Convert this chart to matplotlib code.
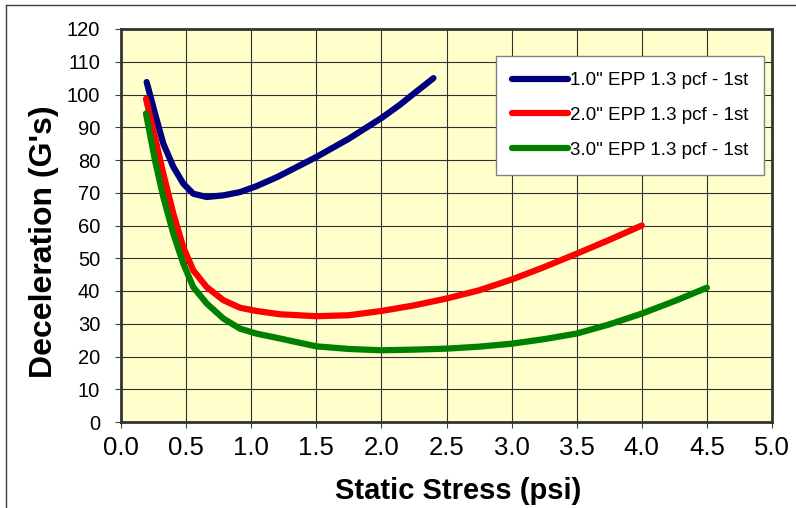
import matplotlib
matplotlib.use("Agg")
from matplotlib import pyplot as plt
from matplotlib.lines import Line2D

# values
x_1in = [0.197, 0.261, 0.325, 0.402, 0.478, 0.555, 0.658, 0.786, 0.914, 1.04, 1.2, 1.5, 1.75, 2.0, 2.14, 2.25, 2.4]
y_1in = [103.8, 94.2, 85.0, 77.9, 72.8, 69.7, 68.7, 69.2, 70.2, 72.0, 74.8, 80.9, 86.5, 92.8, 96.8, 100.3, 105]

x_2in = [0.192, 0.261, 0.325, 0.402, 0.478, 0.555, 0.658, 0.786, 0.914, 1.04, 1.22, 1.5, 1.75, 2.0, 2.25, 2.5,
         2.75, 3.0, 3.25, 3.5, 3.75, 4.0]
y_2in = [98.7, 87.0, 75.8, 63.6, 53.4, 46.3, 41.2, 37.2, 34.9, 33.9, 32.9, 32.3, 32.6, 33.9, 35.6, 37.7,
         40.2, 43.5, 47.3, 51.4, 55.6, 60]

x_3in = [0.192, 0.261, 0.325, 0.402, 0.478, 0.555, 0.658, 0.786, 0.914, 1.04, 1.22, 1.5, 1.75, 2.0, 2.25, 2.5,
         2.75, 3.0, 3.25, 3.5, 3.75, 4.0, 4.25, 4.5]
y_3in = [94.2, 79.9, 68.7, 57.5, 48.4, 41.2, 36.2, 31.6, 28.5, 27.0, 25.5, 23.1, 22.3, 21.9, 22.1, 22.4,
         23.0, 23.9, 25.3, 27.0, 29.8, 33.1, 36.9, 41]

labels = ['1.0" EPP 1.3 pcf - 1st', '2.0" EPP 1.3 pcf - 1st', '3.0" EPP 1.3 pcf - 1st']
colors = ['#000080', '#FF0000', '#008000']

x_ticks = [0.0, 0.5, 1.0, 1.5, 2.0, 2.5, 3.0, 3.5, 4.0, 4.5, 5.0]
y_ticks = list(range(0, 121, 10))

font = 'Liberation Sans'

fig = plt.figure(figsize=(7.96, 5.08), dpi=100)
ax = fig.add_axes([121 / 796, 1 - 422 / 508, (772 - 121) / 796, (422 - 29) / 508])
ax.set_facecolor('#FFFFCC')

for xs, ys, c, lab in zip([x_1in, x_2in, x_3in], [y_1in, y_2in, y_3in], colors, labels):
    ax.plot(xs, ys, color=c, linewidth=4.5, solid_capstyle='round', solid_joinstyle='round', label=lab)

ax.set_xlim(0, 5)
ax.set_ylim(0, 120)
ax.set_xticks(x_ticks)
ax.set_xticklabels([f"{v:.1f}" for v in x_ticks], fontfamily=font, fontsize=18.5)
ax.set_yticks(y_ticks)
ax.set_yticklabels([str(v) for v in y_ticks], fontfamily=font, fontsize=14.5)
ax.tick_params(direction='out', length=4, width=0.8, color='#404040')
ax.tick_params(axis='x', pad=6)
ax.tick_params(axis='y', pad=11)

ax.grid(True, color='#303030', linewidth=0.8)
ax.set_axisbelow(True)
for s in ax.spines.values():
    s.set_linewidth(2)
    s.set_color('#333333')

ax.set_xlabel("Static Stress (psi)", fontfamily=font, fontweight='bold', fontsize=21, va='center')
ax.xaxis.set_label_coords(0.518, -0.176)
ax.set_ylabel("Deceleration (G's)", fontfamily=font, fontweight='bold', fontsize=23, va='center')
ax.yaxis.set_label_coords(-0.118, 0.458)

leg = ax.legend(loc='upper right', bbox_to_anchor=(764 / 796, 1 - 56 / 508), bbox_transform=fig.transFigure,
                prop={'family': font, 'size': 13.5}, fancybox=False, framealpha=1,
                edgecolor='#808080', handlelength=3.0, handletextpad=0.1, labelspacing=0.95,
                borderpad=0.85, borderaxespad=0)
leg.get_frame().set_linewidth(1)
for h in leg.get_lines():
    h.set_linewidth(4.5)

# thin frame around the figure (only top and left visible in reference)
fig.add_artist(Line2D([6 / 796, 1], [1 - 5 / 508, 1 - 5 / 508], transform=fig.transFigure, color='#404040', linewidth=1))
fig.add_artist(Line2D([6 / 796, 6 / 796], [0, 1 - 5 / 508], transform=fig.transFigure, color='#404040', linewidth=1))

fig.savefig('out.png', dpi=100)
